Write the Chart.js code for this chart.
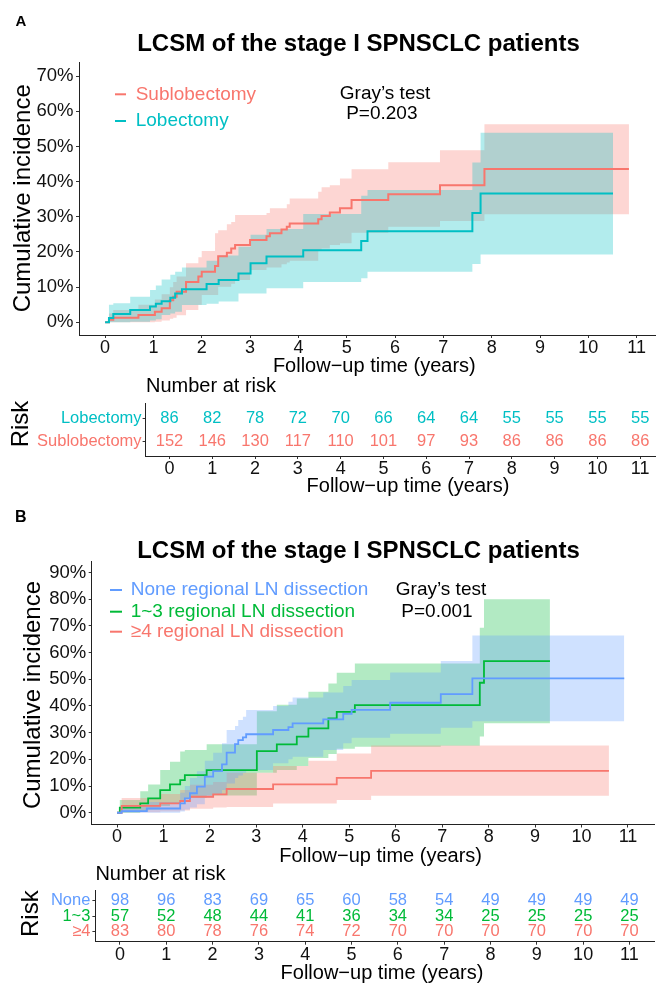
<!DOCTYPE html>
<html>
<head>
<meta charset="utf-8">
<script src="https://cdn.jsdelivr.net/npm/chart.js@4.4.1/dist/chart.umd.min.js"></script>
<style>
  html, body { margin: 0; padding: 0; background: #fff; overflow: hidden; }
  body { width: 656px; height: 983px; position: relative; }
  canvas { position: absolute; left: 0; }
</style>
</head>
<body>
<canvas id="mainA" width="656" height="380" style="top:0px"></canvas>
<canvas id="riskA" width="656" height="140" style="top:370px"></canvas>
<canvas id="mainB" width="656" height="375" style="top:500px"></canvas>
<canvas id="riskB" width="656" height="123" style="top:860px"></canvas>
<script>
const FONT = "'Liberation Sans', Arial, sans-serif";
const RED = '#F8766D', TEAL = '#00BFC4', BLUE = '#619CFF', GREEN = '#00BA38';

// ---- Panel A: cumulative incidence (%) ----
const subTime = [0, 0.08, 0.17, 0.69, 1.03, 1.17, 1.34, 1.41, 1.48, 1.675, 1.93, 2.0, 2.275, 2.34, 2.52, 2.61, 2.69, 3.0, 3.34, 3.41, 3.65, 3.76, 3.82, 4.41, 4.48, 4.65, 4.86, 5.10, 5.86, 6.93, 7.85, 10.84];
const subEst  = [0, 0.7, 1.3, 2.1, 3.0, 4.0, 6.3, 7.3, 8.7, 11.5, 13.0, 14.4, 16.0, 18.8, 19.8, 21.0, 22.0, 23.4, 24.5, 25.3, 26.4, 27.2, 28.1, 29.3, 30.2, 31.2, 32.4, 34.8, 36.4, 39.0, 43.6, 43.6];
const subUp   = [0, 2.5, 3.5, 5.0, 6.5, 8.0, 10.0, 11.5, 13.0, 16.8, 18.5, 20.3, 25.3, 26.2, 27.9, 28.5, 30.5, 30.5, 31.1, 32.4, 32.4, 33.6, 35.2, 37.1, 38.4, 39.0, 40.9, 43.5, 45.5, 48.9, 56.3, 56.3];
const subLow  = [0, 0, 0, 0, 0.2, 0.5, 1.0, 1.3, 2.0, 3.5, 5.0, 7.8, 7.8, 10.1, 10.1, 11.0, 12.0, 14.9, 15.6, 15.6, 16.5, 17.0, 17.5, 20.5, 21.0, 22.0, 22.5, 25.5, 27.2, 28.8, 30.7, 30.7];

const lobTime = [0, 0.08, 0.17, 0.52, 0.93, 1.05, 1.17, 1.35, 1.45, 1.59, 2.10, 2.35, 2.76, 3.01, 3.34, 4.10, 5.30, 5.43, 7.60, 7.77, 10.51];
const lobEst  = [0, 1.2, 2.4, 3.5, 4.5, 5.3, 6.0, 7.0, 8.2, 9.4, 10.9, 12.0, 13.9, 16.8, 18.7, 20.5, 23.1, 25.9, 31.1, 36.6, 36.6];
const lobUp   = [0, 5.0, 5.4, 7.3, 9.2, 10.5, 12.2, 13.5, 14.4, 15.6, 17.5, 19.0, 21.5, 24.9, 26.5, 30.8, 36.0, 37.6, 45.4, 53.9, 53.9];
const lobLow  = [0, 0, 0, 0.2, 0.5, 0.9, 2.1, 2.5, 3.0, 4.9, 5.3, 5.9, 8.2, 8.2, 9.7, 11.5, 12.5, 14.4, 16.6, 19.3, 19.3];

// ---- Panel B ----
const noneTime = [0, 0.10, 0.64, 1.36, 1.46, 1.57, 1.72, 1.89, 2.07, 2.26, 2.36, 2.54, 2.61, 2.71, 2.78, 3.36, 3.69, 3.78, 4.44, 4.87, 5.05, 5.88, 6.97, 7.65, 10.92];
const noneEst  = [0, 0.6, 1.6, 3.5, 5.4, 7.3, 9.8, 13.5, 15.6, 18.1, 22.5, 25.7, 27.2, 28.2, 29.4, 31.0, 32.1, 33.5, 35.0, 37.0, 38.5, 41.2, 44.4, 50.3, 50.3];
const noneUp   = [0, 2.5, 4.0, 7.5, 10.0, 13.0, 15.5, 19.5, 22.5, 26.0, 31.0, 32.5, 34.7, 36.0, 38.5, 40.0, 41.6, 43.2, 45.0, 47.5, 49.7, 52.5, 56.8, 66.4, 66.4];
const noneLow  = [0, 0, 0, 0.5, 1.2, 2.0, 3.2, 5.5, 7.0, 8.5, 11.0, 13.0, 14.0, 15.0, 16.0, 18.5, 20.0, 21.0, 23.5, 26.0, 28.1, 29.6, 31.8, 34.3, 34.3];

const oneTime = [0, 0.06, 0.50, 0.67, 0.93, 1.14, 1.36, 1.46, 1.93, 3.01, 3.44, 3.87, 4.12, 4.55, 4.73, 5.12, 6.97, 7.81, 7.90, 9.32];
const oneEst  = [0, 1.9, 3.5, 5.4, 8.5, 10.6, 12.2, 14.1, 16.0, 23.1, 25.6, 28.5, 31.6, 35.3, 37.8, 40.3, 40.3, 48.7, 56.8, 56.8];
const oneUp   = [0, 4.8, 8.1, 10.6, 16.0, 19.1, 22.9, 23.5, 25.7, 38.0, 40.5, 42.8, 45.3, 48.4, 52.4, 55.9, 55.9, 69.3, 80.0, 80.0];
const oneLow  = [0, 0, 0.5, 1.2, 2.5, 3.5, 4.5, 5.5, 6.5, 15.0, 16.0, 17.5, 20.5, 22.0, 24.0, 24.7, 25.1, 28.6, 33.5, 33.5];

const fourTime = [0, 0.10, 0.93, 1.36, 1.57, 2.07, 2.36, 3.36, 4.12, 4.73, 5.47, 10.59];
const fourEst  = [0, 2.6, 3.5, 4.4, 6.0, 6.9, 8.9, 10.6, 10.6, 13.1, 15.7, 15.7];
const fourUp   = [0, 5.5, 7.0, 8.5, 10.5, 11.5, 15.0, 17.5, 19.5, 22.2, 25.2, 25.2];
const fourLow  = [0, 0.2, 0.5, 0.8, 1.5, 2.0, 2.2, 3.5, 3.5, 4.8, 6.4, 6.4];

// ---- ticks and risk tables ----
const xTicks = [0, 1, 2, 3, 4, 5, 6, 7, 8, 9, 10, 11];
const yTicksA = [0, 10, 20, 30, 40, 50, 60, 70];
const yTicksB = [0, 10, 20, 30, 40, 50, 60, 70, 80, 90];
const riskTimes = [0, 1, 2, 3, 4, 5, 6, 7, 8, 9, 10, 11];
const lobRisk  = [86, 82, 78, 72, 70, 66, 64, 64, 55, 55, 55, 55];
const subRisk  = [152, 146, 130, 117, 110, 101, 97, 93, 86, 86, 86, 86];
const noneRisk = [98, 96, 83, 69, 65, 60, 58, 54, 49, 49, 49, 49];
const oneRisk  = [57, 52, 48, 44, 41, 36, 34, 34, 25, 25, 25, 25];
const fourRisk = [83, 80, 78, 76, 74, 72, 70, 70, 70, 70, 70, 70];

function pts(t, v) { return t.map((x, i) => ({ x: x, y: v[i] })); }
function rgba(hex, a) {
  const n = parseInt(hex.slice(1), 16);
  return 'rgba(' + (n >> 16) + ',' + ((n >> 8) & 255) + ',' + (n & 255) + ',' + a + ')';
}
// line + ribbon (upper filled down to lower)
// datasets listed first are painted last (on top)
function curve(time, est, low, up, color, w) {
  return [
    { data: pts(time, est), borderColor: color, borderWidth: w, stepped: true, pointRadius: 0, fill: false, order: 0 },
    { data: pts(time, up), borderColor: 'transparent', borderWidth: 0, stepped: true, pointRadius: 0, fill: '+1', backgroundColor: rgba(color, 0.3), order: 1 },
    { data: pts(time, low), borderColor: 'transparent', borderWidth: 0, stepped: true, pointRadius: 0, fill: false, order: 1 }
  ];
}

// free text drawn on the canvas
function textPlugin(items) {
  return {
    id: 'texts',
    afterDraw(chart) {
      const ctx = chart.ctx;
      items.forEach(it => {
        ctx.save();
        if (it.dash) {
          ctx.strokeStyle = it.color;
          ctx.lineWidth = 2;
          ctx.beginPath();
          ctx.moveTo(it.dash[0], it.y);
          ctx.lineTo(it.dash[1], it.y);
          ctx.stroke();
        }
        if (it.text) {
          ctx.font = (it.bold ? 'bold ' : '') + it.size + 'px ' + FONT;
          ctx.fillStyle = it.color || '#000';
          ctx.textAlign = it.align || 'center';
          ctx.textBaseline = 'middle';
          ctx.translate(it.x, it.y);
          if (it.rot) ctx.rotate(-Math.PI / 2);
          ctx.fillText(it.text, 0, 0);
        }
        ctx.restore();
      });
    }
  };
}

function axisX(min, max, h) {
  return {
    type: 'linear', min: min, max: max,
    afterBuildTicks: s => { s.ticks = xTicks.map(v => ({ value: v })); },
    afterFit: s => { s.height = h; },
    grid: { drawOnChartArea: false, drawTicks: true, tickLength: 3, tickColor: '#333' },
    border: { display: true, color: '#222', width: 1 },
    ticks: { color: '#111', font: { family: FONT, size: 18, lineHeight: 1 }, padding: 1, maxRotation: 0, autoSkip: false }
  };
}

function mainChart(id, sets, c) {
  return new Chart(document.getElementById(id), {
    type: 'line',
    data: { datasets: sets },
    options: {
      responsive: false, animation: false, events: [],
      layout: { padding: { top: c.top, left: 0, right: c.right, bottom: 0 } },
      plugins: { legend: { display: false }, tooltip: { enabled: false } },
      scales: {
        x: axisX(c.xmin, c.xmax, c.xh),
        y: {
          type: 'linear', min: c.ymin, max: c.ymax,
          afterBuildTicks: s => { s.ticks = c.yTicks.map(v => ({ value: v })); },
          afterFit: s => { s.width = c.yw; },
          grid: { drawOnChartArea: false, drawTicks: true, tickLength: 3, tickColor: '#333' },
          border: { display: true, color: '#222', width: 1 },
          ticks: { color: '#111', font: { family: FONT, size: 18.5, lineHeight: 1 }, padding: 2.5, callback: v => v + '%' }
        }
      }
    },
    plugins: [textPlugin(c.texts)]
  });
}

function riskChart(id, rows, c) {
  const sets = rows.map((r, i) => ({
    data: riskTimes.map(t => ({ x: t, y: i })), pointRadius: 0, showLine: false
  }));
  const numbers = {
    id: 'numbers',
    afterDatasetsDraw(chart) {
      const ctx = chart.ctx;
      ctx.save();
      ctx.font = '16.5px ' + FONT;
      ctx.textAlign = 'center';
      ctx.textBaseline = 'middle';
      rows.forEach((r, i) => {
        ctx.fillStyle = r.color;
        chart.getDatasetMeta(i).data.forEach((el, j) => ctx.fillText(String(r.values[j]), el.x, el.y));
      });
      ctx.restore();
    }
  };
  return new Chart(document.getElementById(id), {
    type: 'scatter',
    data: { datasets: sets },
    options: {
      responsive: false, animation: false, events: [],
      layout: { padding: { top: c.top, left: 0, right: c.right, bottom: 0 } },
      plugins: { legend: { display: false }, tooltip: { enabled: false } },
      scales: {
        x: axisX(c.xmin, c.xmax, c.xh),
        y: {
          type: 'linear', min: c.ymin, max: c.ymax, reverse: true,
          afterBuildTicks: s => { s.ticks = rows.map((r, i) => ({ value: i })); },
          afterFit: s => { s.width = c.yw; },
          grid: { drawOnChartArea: false, drawTicks: true, tickLength: 3, tickColor: '#333' },
          border: { display: true, color: '#222', width: 1 },
          ticks: {
            font: { family: FONT, size: 16.5, lineHeight: 1 }, padding: c.pad,
            color: ctx => rows[ctx.index] ? rows[ctx.index].color : '#000',
            callback: (v, i) => rows[i] ? rows[i].label : ''
          }
        }
      }
    },
    plugins: [numbers, textPlugin(c.texts)]
  });
}

const TITLE = 'LCSM of the stage I SPNSCLC patients';
const XTITLE = 'Follow\u2212up time (years)';

mainChart('mainA',
  [].concat(curve(lobTime, lobEst, lobLow, lobUp, TEAL, 2), curve(subTime, subEst, subLow, subUp, RED, 2)),
  {
    top: 62, right: 0, xh: 45, yw: 79, xmin: -0.54, xmax: 11.4, ymin: -3.6, ymax: 74, yTicks: yTicksA,
    texts: [
      { text: 'A', x: 20.8, y: 21.7, size: 15, bold: true },
      { text: TITLE, x: 358.5, y: 44.5, size: 24, bold: true },
      { text: 'Cumulative incidence', x: 23, y: 198.3, size: 24, rot: true },
      { text: XTITLE, x: 374.3, y: 366.7, size: 20 },
      { dash: [115, 126], y: 94.3, color: RED, text: 'Sublobectomy', x: 135.7, size: 19, align: 'left' },
      { dash: [115, 126], y: 121, color: TEAL, text: 'Lobectomy', x: 135.7, size: 19, align: 'left' },
      { text: 'Gray\u2019s test', x: 385, y: 93.3, size: 19 },
      { text: 'P=0.203', x: 381.8, y: 113.3, size: 19 }
    ]
  });

riskChart('riskA',
  [{ label: 'Lobectomy', color: TEAL, values: lobRisk }, { label: 'Sublobectomy', color: RED, values: subRisk }],
  {
    top: 33, right: 0, xh: 54, yw: 145.6, xmin: -0.558, xmax: 11.37, ymin: -0.667, ymax: 1.611, pad: 1,
    texts: [
      { text: 'Number at risk', x: 146, y: 16.7, size: 20, align: 'left' },
      { text: 'Risk', x: 21, y: 54, size: 24, rot: true },
      { text: XTITLE, x: 408, y: 116.7, size: 20 }
    ]
  });

mainChart('mainB',
  [].concat(curve(noneTime, noneEst, noneLow, noneUp, BLUE, 1.8), curve(fourTime, fourEst, fourLow, fourUp, RED, 1.8), curve(oneTime, oneEst, oneLow, oneUp, GREEN, 1.8)),
  {
    top: 61, right: 2, xh: 50.5, yw: 91.7, xmin: -0.545, xmax: 11.56, ymin: -4.4, ymax: 94.3, yTicks: yTicksB,
    texts: [
      { text: 'B', x: 20.8, y: 17.8, size: 16, bold: true },
      { text: TITLE, x: 358.5, y: 51.7, size: 24, bold: true },
      { text: 'Cumulative incidence', x: 33, y: 195, size: 24, rot: true },
      { text: XTITLE, x: 380.6, y: 356.7, size: 20 },
      { dash: [110, 122], y: 90, color: BLUE, text: 'None regional LN dissection', x: 130.7, size: 19, align: 'left' },
      { dash: [110, 122], y: 111.7, color: GREEN, text: '1~3 regional LN dissection', x: 130.7, size: 19, align: 'left' },
      { dash: [110, 122], y: 131.7, color: RED, text: '\u22654 regional LN dissection', x: 130.7, size: 19, align: 'left' },
      { text: 'Gray\u2019s test', x: 441, y: 90, size: 19 },
      { text: 'P=0.001', x: 437, y: 111.7, size: 19 }
    ]
  });

riskChart('riskB',
  [{ label: 'None', color: BLUE, values: noneRisk }, { label: '1~3', color: GREEN, values: oneRisk }, { label: '\u22654', color: RED, values: fourRisk }],
  {
    top: 30, right: 2, xh: 41.3, yw: 95.4, xmin: -0.53, xmax: 11.53, ymin: -0.69, ymax: 2.645, pad: 2,
    texts: [
      { text: 'Number at risk', x: 95.4, y: 14, size: 20, align: 'left' },
      { text: 'Risk', x: 31.4, y: 53.7, size: 24, rot: true },
      { text: XTITLE, x: 382, y: 113.3, size: 20 }
    ]
  });
</script>
</body>
</html>
